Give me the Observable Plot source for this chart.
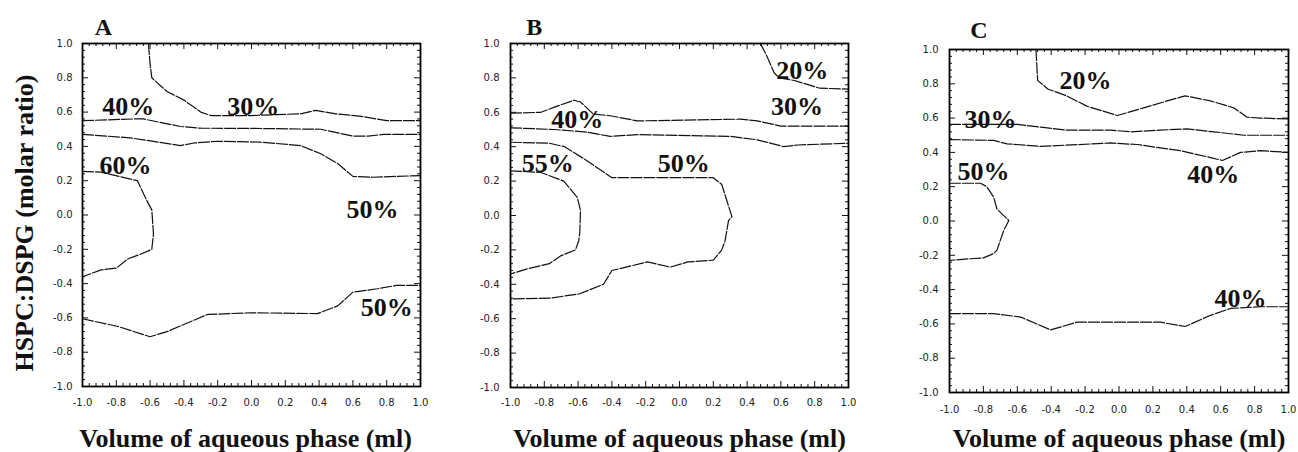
<!DOCTYPE html>
<html>
<head>
<meta charset="utf-8">
<script src="https://cdn.jsdelivr.net/npm/d3@7"></script>
<script src="https://cdn.jsdelivr.net/npm/@observablehq/plot@0.6"></script>
<style>
  body { margin: 0; background: #fff; }
  #wrap { position: relative; width: 1298px; height: 452px; overflow: hidden; background: #fff; }
  #wrap svg { position: absolute; top: 0; }
</style>
</head>
<body>
<div id="wrap"></div>
<script>
// ---------- tick labels ----------
const majorTicks = [-1.0, -0.8, -0.6, -0.4, -0.2, 0.0, 0.2, 0.4, 0.6, 0.8, 1.0];
const minorTicks = d3.range(-1, 1.0001, 0.04).map(v => +v.toFixed(2))
  .filter(v => !majorTicks.some(m => Math.abs(m - v) < 1e-6));

const xTitle = "Volume of aqueous phase (ml)";
const yTitle = "HSPC:DSPG (molar ratio)";
const panelNames = ["A", "B", "C"];

// ---------- Panel A contour lines [x, y] ----------
const A_line30 = [[-0.61,1.0],[-0.60,0.88],[-0.59,0.80],[-0.50,0.72],[-0.40,0.67],[-0.30,0.60],[-0.24,0.58],[0.0,0.58],[0.29,0.59],[0.38,0.61],[0.5,0.59],[0.65,0.575],[0.8,0.55],[1.0,0.55]];
const A_line40a = [[-1,0.55],[-0.70,0.56],[-0.64,0.56],[-0.42,0.516],[-0.30,0.506],[0.0,0.505],[0.41,0.50],[0.60,0.46],[0.69,0.46],[0.78,0.47],[1.0,0.47]];
const A_line40b = [[-1,0.47],[-0.72,0.45],[-0.42,0.405],[-0.34,0.42],[-0.20,0.43],[0.05,0.425],[0.29,0.405],[0.41,0.357],[0.51,0.30],[0.60,0.225],[0.72,0.22],[1.0,0.23]];
const A_line60 = [[-1,0.254],[-0.89,0.25],[-0.675,0.20],[-0.62,0.085],[-0.59,0.03],[-0.58,-0.11],[-0.59,-0.20],[-0.66,-0.23],[-0.73,-0.255],[-0.80,-0.31],[-0.89,-0.32],[-1,-0.36]];
const A_line50 = [[-1,-0.605],[-0.79,-0.65],[-0.60,-0.71],[-0.50,-0.68],[-0.26,-0.58],[0.0,-0.57],[0.39,-0.575],[0.51,-0.53],[0.60,-0.45],[0.745,-0.43],[0.86,-0.41],[1.0,-0.41]];
const A_labels = [
  {text: "40%", x: -0.73, y: 0.63}, {text: "30%", x: 0.01, y: 0.63},
  {text: "60%", x: -0.745, y: 0.29}, {text: "50%", x: 0.716, y: 0.03},
  {text: "50%", x: 0.80, y: -0.54}
];

// ---------- Panel B ----------
const B_line20 = [[0.479,1.0],[0.52,0.92],[0.56,0.83],[0.59,0.80],[0.68,0.785],[0.83,0.74],[1.0,0.735]];
const B_line30 = [[-1,0.595],[-0.82,0.60],[-0.74,0.63],[-0.625,0.67],[-0.586,0.66],[-0.51,0.59],[-0.41,0.58],[-0.25,0.55],[0.36,0.56],[0.46,0.55],[0.60,0.52],[1.0,0.52]];
const B_line40 = [[-1,0.51],[-0.74,0.50],[-0.55,0.485],[-0.41,0.46],[-0.25,0.47],[0.30,0.46],[0.46,0.44],[0.617,0.40],[0.70,0.41],[1.0,0.42]];
const B_line50 = [[-1,0.426],[-0.77,0.42],[-0.68,0.40],[-0.55,0.32],[-0.40,0.22],[0.20,0.22],[0.25,0.18],[0.28,0.087],[0.31,-0.006],[0.29,-0.03],[0.27,-0.145],[0.25,-0.20],[0.20,-0.26],[0.05,-0.27],[-0.053,-0.30],[-0.19,-0.27],[-0.40,-0.32],[-0.45,-0.40],[-0.59,-0.455],[-0.76,-0.48],[-1,-0.485]];
const B_line55 = [[-1,0.26],[-0.82,0.25],[-0.685,0.20],[-0.605,0.106],[-0.586,0.03],[-0.59,-0.10],[-0.596,-0.145],[-0.615,-0.20],[-0.70,-0.233],[-0.77,-0.28],[-0.90,-0.31],[-1,-0.34]];
const B_labels = [
  {text: "20%", x: 0.726, y: 0.84}, {text: "30%", x: 0.696, y: 0.63},
  {text: "40%", x: -0.605, y: 0.56}, {text: "55%", x: -0.78, y: 0.30},
  {text: "50%", x: 0.025, y: 0.30}
];

// ---------- Panel C ----------
const C_line20 = [[-0.49,1.0],[-0.48,0.82],[-0.42,0.77],[-0.31,0.73],[-0.19,0.67],[-0.01,0.615],[0.146,0.66],[0.284,0.70],[0.39,0.73],[0.54,0.70],[0.677,0.66],[0.756,0.605],[0.835,0.60],[1.0,0.595]];
const C_line30 = [[-1,0.563],[-0.60,0.563],[-0.46,0.547],[-0.31,0.53],[-0.05,0.53],[0.068,0.52],[0.245,0.53],[0.40,0.537],[0.56,0.52],[0.736,0.50],[1.0,0.50]];
const C_line40a = [[-1,0.475],[-0.74,0.47],[-0.66,0.45],[-0.46,0.435],[-0.05,0.455],[0.107,0.446],[0.36,0.41],[0.54,0.37],[0.61,0.353],[0.717,0.40],[0.835,0.41],[1.0,0.40]];
const C_line50 = [[-1,0.22],[-0.817,0.22],[-0.78,0.20],[-0.74,0.14],[-0.72,0.07],[-0.65,0.003],[-0.68,-0.055],[-0.72,-0.17],[-0.74,-0.19],[-0.80,-0.215],[-0.876,-0.22],[-1,-0.23]];
const C_line40b = [[-1,-0.54],[-0.74,-0.54],[-0.58,-0.56],[-0.404,-0.635],[-0.247,-0.59],[0.245,-0.59],[0.39,-0.615],[0.54,-0.55],[0.658,-0.51],[0.835,-0.50],[1.0,-0.50]];
const C_labels = [
  {text: "20%", x: -0.198, y: 0.82}, {text: "30%", x: -0.758, y: 0.59},
  {text: "50%", x: -0.80, y: 0.285}, {text: "40%", x: 0.556, y: 0.27},
  {text: "40%", x: 0.717, y: -0.455}
];

// panel letter anchor positions (data units, just outside the frame)
const letterPos = [{x: -0.876, y: 1.093}, {x: -0.86, y: 1.095}, {x: -0.827, y: 1.11}];
// y-axis title anchor (data units, left of panel A's frame)
const yTitlePos = {x: -1.343, y: -0.047};

// ---------- layout ----------
const panels = [
  {left: 0,   width: 430, mL: 82, mR: 10, mT: 43, mB: 66, yPad: 10, xPad: 12, tdx: -6, tdy: 52,
   lines: [A_line30, A_line40a, A_line40b, A_line60, A_line50], labels: A_labels, yTitle: true},
  {left: 430, width: 430, mL: 80, mR: 12, mT: 43, mB: 65, yPad: 11, xPad: 11, tdx: 0, tdy: 51,
   lines: [B_line20, B_line30, B_line40, B_line50, B_line55], labels: B_labels, yTitle: false},
  {left: 860, width: 438, mL: 89, mR: 10, mT: 49, mB: 60, yPad: 11, xPad: 13, tdx: 0, tdy: 46,
   lines: [C_line20, C_line30, C_line40a, C_line50, C_line40b], labels: C_labels, yTitle: false}
];

const H = 452;
const serif = "'Liberation Serif', 'Times New Roman', serif";
const sans = "'DejaVu Sans', sans-serif";
const wrap = document.getElementById("wrap");

panels.forEach((p, i) => {
  const innerW = p.width - p.mL - p.mR;
  const innerH = H - p.mT - p.mB;
  const marks = [
    // contour lines
    ...p.lines.map(L => Plot.line(L, {x: d => d[0], y: d => d[1], stroke: "#111", strokeWidth: 1.2, strokeDasharray: "11,2"})),
    // inward ticks on four sides
    Plot.tickX(majorTicks, {x: d => d, insetTop: innerH - 6, stroke: "#111"}),
    Plot.tickX(majorTicks, {x: d => d, insetBottom: innerH - 6, stroke: "#111"}),
    Plot.tickX(minorTicks, {x: d => d, insetTop: innerH - 3, stroke: "#111"}),
    Plot.tickX(minorTicks, {x: d => d, insetBottom: innerH - 3, stroke: "#111"}),
    Plot.tickY(majorTicks, {y: d => d, insetRight: innerW - 6, stroke: "#111"}),
    Plot.tickY(majorTicks, {y: d => d, insetLeft: innerW - 6, stroke: "#111"}),
    Plot.tickY(minorTicks, {y: d => d, insetRight: innerW - 3, stroke: "#111"}),
    Plot.tickY(minorTicks, {y: d => d, insetLeft: innerW - 3, stroke: "#111"}),
    Plot.frame({stroke: "#000", strokeWidth: 1.8}),
    // tick labels
    Plot.axisX({ticks: majorTicks, tickSize: 0, tickPadding: p.xPad, tickFormat: d => d.toFixed(1),
                fontSize: 10, fontFamily: sans, fill: "#222"}),
    Plot.axisY({ticks: majorTicks, tickSize: 0, tickPadding: p.yPad, tickFormat: d => d.toFixed(1),
                fontSize: 10, fontFamily: sans, fill: "#222", label: null}),
    // contour value labels
    Plot.text(p.labels, {x: "x", y: "y", text: "text", fontSize: 26, fontWeight: "bold", fontFamily: serif, fill: "#111"}),
    // panel letter
    Plot.text([panelNames[i]], {x: () => letterPos[i].x, y: () => letterPos[i].y, text: d => d,
               fontSize: 24, fontWeight: "bold", fontFamily: serif, fill: "#111"}),
    // x-axis title
    Plot.text([xTitle], {frameAnchor: "bottom", text: d => d, dx: p.tdx, dy: p.tdy, lineAnchor: "middle",
               fontSize: 26, fontWeight: "bold", fontFamily: serif, fill: "#111"})
  ];
  if (p.yTitle) {
    marks.push(Plot.text([yTitle], {x: () => yTitlePos.x, y: () => yTitlePos.y, text: d => d, rotate: -90,
               lineAnchor: "middle", fontSize: 26, fontWeight: "bold", fontFamily: serif, fill: "#111"}));
  }
  const chart = Plot.plot({
    width: p.width, height: H,
    marginLeft: p.mL, marginRight: p.mR, marginTop: p.mT, marginBottom: p.mB,
    x: {domain: [-1, 1], label: null},
    y: {domain: [-1, 1], label: null},
    style: {background: "transparent", overflow: "visible"},
    marks
  });
  chart.style.left = p.left + "px";
  wrap.appendChild(chart);
});
</script>
</body>
</html>
